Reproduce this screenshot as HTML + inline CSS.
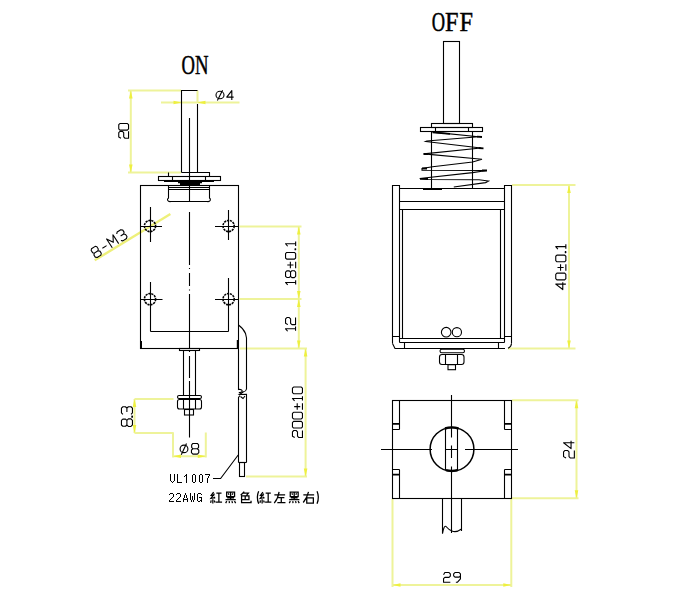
<!DOCTYPE html>
<html><head><meta charset="utf-8"><style>
html,body{margin:0;padding:0;background:#fff;width:680px;height:604px;overflow:hidden}
svg{display:block}
#cadtext path{vector-effect:non-scaling-stroke}
</style></head><body>
<svg width="680" height="604" viewBox="0 0 680 604">
<rect width="680" height="604" fill="#fff"/>

<!-- ============ YELLOW DIMENSIONS ============ -->
<g stroke="#eef39a" stroke-width="2" fill="none">
  <!-- 20 -->
  <path d="M128 90.5H181 M128 172.5H181 M130.8 90.5V172.5"/>
  <!-- d4 -->
  <path d="M161 102.5H239.5 M197.5 90.5V102"/>
  <!-- 18 / 12 -->
  <path d="M239.5 226.5H301.5 M239.5 299H301.5 M298.8 226.5V348.5 M240 348.5H307"/>
  <!-- 200 -->
  <path d="M305.6 348.5V476.5 M246 476.5H307"/>
  <!-- 8.3 -->
  <path d="M134.5 399V433 M134.5 399H173.5 M134.5 433H173.5"/>
  <!-- d8 -->
  <path d="M173 432.5V457.5 M205.8 432.5V457.5 M173 456.3H205.8"/>
  <!-- 40 -->
  <path d="M512 185H575.5 M569 185V348.6 M508 348.6H575.5"/>
  <!-- 24 -->
  <path d="M512 400.3H578.5 M576.5 400.3V498.3 M512 498.3H578.5"/>
  <!-- 29 -->
  <path d="M392.5 499V587 M511.3 499V587 M392.5 585H511.3"/>
</g>
<path d="M94.7 260.3L170.4 214" stroke="#eef07a" stroke-width="2.4" fill="none"/>
<!-- arrows -->
<g fill="#eef040">
  <path d="M130.8 90.5l-1.8 8h3.6z M130.8 172.5l-1.8 -8h3.6z"/>
  <path d="M181.5 102.5l-8 -1.8v3.6z M197.5 102.5l8 -1.8v3.6z"/>
  <path d="M298.8 226.5l-1.8 8h3.6z M298.8 299l-1.8 -8h3.6z M298.8 299l-1.8 8h3.6z M298.8 348.5l-1.8 -8h3.6z"/>
  <path d="M305.6 348.5l-1.8 8h3.6z M305.6 476.5l-1.8 -8h3.6z"/>
  <path d="M134.5 399l-1.8 8h3.6z M134.5 433l-1.8 -8h3.6z"/>
  <path d="M173 456.3l8 -1.8v3.6z M205.8 456.3l-8 -1.8v3.6z"/>
  <path d="M569 185l-1.8 8h3.6z M569 348.6l-1.8 -8h3.6z"/>
  <path d="M576.5 400.3l-1.8 8h3.6z M576.5 498.3l-1.8 -8h3.6z"/>
  <path d="M392.5 585l8 -1.8v3.6z M511.3 585l-8 -1.8v3.6z"/>
</g>

<!-- ============ ON DRAWING ============ -->
<g stroke="#000" stroke-width="1.1" fill="none">
  <!-- top shaft -->
  <path d="M181.5 172.5V90.5H197.5 M197.5 104V172.5"/>
  <path d="M189.5 118V201.5"/>
  <!-- upper plate / washer -->
  <path d="M181.5 172.5H209.5V176.5 M168.5 172.5V176.5"/>
  <rect x="158.5" y="176.5" width="62" height="4"/>
  <path d="M172.5 176.5v4 M205.5 176.5v4"/>
  <path d="M164 181.5H214"/>
  <!-- body -->
  <rect x="140.5" y="185.5" width="98" height="163"/>
  <!-- pole piece -->
  <path d="M168.5 185.5V198Q167 199 167.6 200.3Q168.5 202 171 201.5H207Q209.5 202 210.3 200.3Q210.8 199 209.5 198V185.5 M168.5 187.5H209.5 M168.5 189.5H209.5"/>
  <!-- center dashed -->
  <path d="M189.5 212V265 M189.5 268V269 M189.5 273V286 M189.5 289.5V290.5 M189.5 294V348.5" />
  <!-- hole crosshairs -->
  <path d="M150.5 207V242 M140.5 226.5H162 M228.5 210V240 M215 226.5H238.5"/>
  <path d="M150.5 282V331.5 M140.5 299.5H162.5 M228.5 278V331.5 M215 299.5H238.5"/>
  <path d="M150.5 331.5H228.5"/>
  <!-- bottom plate and shaft -->
  <rect x="179.5" y="348.5" width="20" height="2"/>
  <path d="M183.5 350.5V395.5 M195.5 350.5V395.5"/>
  <rect x="177.5" y="395.5" width="24" height="3" rx="1.5"/>
  <rect x="177.5" y="399.5" width="24" height="9.5" rx="2"/>
  <path d="M183.5 399.5V409 M195.5 399.5V409"/>
  <rect x="184.5" y="409.5" width="9" height="5.5"/>
  <path d="M189.5 350.5V352 M189.5 356V378 M189.5 381V437.5"/>
  <!-- wire -->
  <path d="M238.5 348.5V389.5Q242 389 242.3 391.2Q241.5 392.8 238.8 392.6 M238.5 462.5V397.5L240 395.5"/>
  <path d="M238.5 325Q243.5 328.5 245.5 333.5L246.5 338V389Q246 391.5 243.5 391.8L239.5 394.5L246.5 394.3V462.5"/>
  <path d="M240.5 396.5L243 398.5L245 396"/>
  <path d="M238.5 462.5H246.5"/>
  <rect x="239.5" y="462.5" width="5" height="14"/>
  <path d="M213 478.5H220.6L238.2 455"/>
</g>
<g stroke="#000" stroke-width="1.6" fill="none" stroke-dasharray="2.2 0.8">
  <circle cx="150" cy="226" r="5.6"/>
  <circle cx="228.6" cy="226" r="5.6"/>
  <circle cx="150" cy="299.2" r="5.6"/>
  <circle cx="228.6" cy="299.2" r="5.6"/>
</g>
<g stroke="#000" stroke-width="2" fill="none">
  <path d="M178 182.3H202 M180 184H200"/>
  <path d="M141 341V348 M237.8 340V348"/>
</g>

<!-- ============ OFF DRAWING ============ -->
<g stroke="#000" stroke-width="1.1" fill="none">
  <rect x="443.5" y="41.5" width="16" height="82"/>
  <rect x="431.5" y="123.5" width="41" height="4"/>
  <rect x="420.5" y="127.5" width="62" height="4"/>
  <path d="M435.5 127.5v4 M468.5 127.5v4"/>
  <path d="M431.5 131.5V188.5 M472.5 131.5V188.5"/>
  <!-- frame -->
  <path d="M392.5 343.5V185.5H399.5V342.5 M511.5 343.5V185.5H504.5V342.5"/>
  <path d="M392.5 343.5L395 348.5H505 M511.5 343.5Q511.5 346.5 508 348.3"/>
  <path d="M399.5 188.5H504.5 M399.5 201.5H504.5 M399.5 209.5H504.5"/>
  <path d="M402.5 209.5V338.5 M500.5 209.5V338.5"/>
  <path d="M392.5 336.5H399.5 M504.5 336.5H511.5"/>
  <path d="M399.5 338.5H504.5 M399.5 342.5H504.5"/>
  <path d="M404.5 342.5V348.5 M498.5 342.5V348.5"/>
  <circle cx="446.2" cy="332.2" r="4.8"/>
  <circle cx="456.9" cy="332.2" r="4.6"/>
  <!-- nut -->
  <rect x="440" y="349.2" width="24.5" height="3.6" rx="1.8"/>
  <rect x="439.5" y="354.5" width="24.5" height="10" rx="2.5"/>
  <path d="M445.5 354.5V364.5 M457.5 354.5V364.5"/>
  <rect x="448" y="364.7" width="7.5" height="5"/>
  <!-- spring -->
  <path d="M432.6 132.1L478.5 136.8L426.8 141L425.6 141.5L480.9 148L423.8 153.9L482 159.3L472.6 162L432.6 166.8L422 168.5L422 170.3L486.8 170.5L472.6 172.6L419.7 178.5L428 179.5L479 179.7L488.5 181L485.6 182.6L453.8 187"/>
</g>
<g stroke="#000" stroke-width="1.8" fill="none">
  <path d="M432.6 132.4L450 133.8 M420 178.8H428 M482 170.5H487 M423 189H442 M477 136.6L482 137 M478.5 148L483.5 148.3 M423.5 154H428 M422 168.5H427"/>
</g>

<!-- ============ END VIEW ============ -->
<g stroke="#000" stroke-width="1.1" fill="none">
  <rect x="392.5" y="400.5" width="119" height="98"/>
  <path d="M399.5 400.5V429.5 M399.5 469.5V498.5 M504.5 400.5V429.5 M504.5 469.5V498.5"/>
  <path d="M392.5 429.5H399.5 M392.5 469.5H399.5 M504.5 429.5H511.5 M504.5 469.5H511.5"/>
  <path d="M381 449.5H432 M445.5 449.5H457.5 M465 449.5H518"/>
  <path d="M451.5 395V437.5 M451.5 445.5V458 M451.5 466.5V533"/>
  <path d="M445.5 428.5V470 M457.5 428.5V470"/>
  <path d="M442.5 498.5V533.5 M461.5 498.5V531"/>
  <path d="M442.5 533.5Q444 525 446 526.5Q449 530 452 531Q456 533 461.5 529"/>
</g>
<g stroke="#000" stroke-width="1.8" fill="none">
  <path d="M392.5 423.8H399.5 M392.5 474.6H399.5 M504.5 423.8H511.5 M504.5 474.6H511.5"/>
</g>
<circle cx="452" cy="449.3" r="21.9" stroke="#000" stroke-width="1.5" fill="none"/>
<path d="M445 428.5A21.9 21.9 0 0 1 458.5 428.5 M446 470.2A21.9 21.9 0 0 0 457.5 470.2" stroke="#000" stroke-width="2.4" fill="none"/>

<!-- ============ TEXT ============ -->
<g font-family="Liberation Serif" font-size="28.2" fill="#000" stroke="#000" stroke-width="0.5">
  <text transform="translate(181.6 73.8) scale(0.66 1)">O</text>
  <text transform="translate(194.9 73.8) scale(0.665 1)">N</text>
  <text transform="translate(431.7 30.6) scale(0.655 1)">O</text>
  <text transform="translate(445.0 30.6) scale(0.86 1)">F</text>
  <text transform="translate(459.6 30.6) scale(0.86 1)">F</text>
</g>
<g id="cadtext" fill="none" stroke="#000" stroke-width="1.1" stroke-linejoin="round">
<g transform="translate(118.75 138.25) rotate(-90) scale(0.9333)"><path transform="translate(0.00 0)" d="M0 2.4L1.4 0H6L7.4 1.4V3.9L6 5.3H1.4L0 6.7V10.5H7.4"/><path transform="translate(8.75 0)" d="M1.2 0H5.8L7 1.2V9.3L5.8 10.5H1.2L0 9.3V1.2Z"/></g>
<g transform="translate(226.75 90.55) scale(0.9048)"><path transform="translate(0.00 0)" d="M5.6 10.5V0L0 7.3H7.6"/></g>
<g transform="translate(285.55 284.95) rotate(-90) scale(0.9619)"><path transform="translate(0.00 0)" d="M0 2.2L2.6 0V10.5M0.4 10.5H5"/><path transform="translate(7.60 0)" d="M1.4 0H5.8L7 1.3V3.9L5.8 5.2H1.4L0.2 3.9V1.3ZM1.4 5.2L0 6.6V9.1L1.4 10.5H5.8L7.2 9.1V6.6L5.8 5.2"/><path transform="translate(17.41 0)" d="M3.4 1.8V8.2M0 5H6.8M0 10.5H6.8"/><path transform="translate(26.81 0)" d="M1.2 0H5.8L7 1.2V9.3L5.8 10.5H1.2L0 9.3V1.2Z"/><path transform="translate(36.42 0)" d="M0.1 9.9H1.1V10.5H0.1Z"/><path transform="translate(40.22 0)" d="M0 2.2L2.6 0V10.5M0.4 10.5H5"/></g>
<g transform="translate(285.55 331.25) rotate(-90) scale(0.9524)"><path transform="translate(0.00 0)" d="M0 2.2L2.6 0V10.5M0.4 10.5H5"/><path transform="translate(6.98 0)" d="M0 2.4L1.4 0H6L7.4 1.4V3.9L6 5.3H1.4L0 6.7V10.5H7.4"/></g>
<g transform="translate(292.45 437.55) rotate(-90) scale(0.9524)"><path transform="translate(0.00 0)" d="M0 2.4L1.4 0H6L7.4 1.4V3.9L6 5.3H1.4L0 6.7V10.5H7.4"/><path transform="translate(9.96 0)" d="M1.2 0H5.8L7 1.2V9.3L5.8 10.5H1.2L0 9.3V1.2Z"/><path transform="translate(19.53 0)" d="M1.2 0H5.8L7 1.2V9.3L5.8 10.5H1.2L0 9.3V1.2Z"/><path transform="translate(29.09 0)" d="M3.4 1.8V8.2M0 5H6.8M0 10.5H6.8"/><path transform="translate(38.46 0)" d="M0 2.2L2.6 0V10.5M0.4 10.5H5"/><path transform="translate(46.02 0)" d="M1.2 0H5.8L7 1.2V9.3L5.8 10.5H1.2L0 9.3V1.2Z"/></g>
<g transform="translate(121.45 426.45) rotate(-90) scale(1.0476)"><path transform="translate(0.00 0)" d="M1.4 0H5.8L7 1.3V3.9L5.8 5.2H1.4L0.2 3.9V1.3ZM1.4 5.2L0 6.6V9.1L1.4 10.5H5.8L7.2 9.1V6.6L5.8 5.2"/><path transform="translate(8.80 0)" d="M0.1 9.9H1.1V10.5H0.1Z"/><path transform="translate(11.60 0)" d="M0 1.4L1.4 0H5.8L7.2 1.4V3.8L5.8 5.2H2.2M5.8 5.2L7.2 6.6V9.1L5.8 10.5H1.4L0 9.1"/></g>
<g transform="translate(191.45 443.45) scale(1.0190)"><path transform="translate(0.00 0)" d="M1.4 0H5.8L7 1.3V3.9L5.8 5.2H1.4L0.2 3.9V1.3ZM1.4 5.2L0 6.6V9.1L1.4 10.5H5.8L7.2 9.1V6.6L5.8 5.2"/></g>
<g transform="translate(555.75 289.55) rotate(-90) scale(0.9619)"><path transform="translate(0.00 0)" d="M5.6 10.5V0L0 7.3H7.6"/><path transform="translate(10.08 0)" d="M1.2 0H5.8L7 1.2V9.3L5.8 10.5H1.2L0 9.3V1.2Z"/><path transform="translate(19.56 0)" d="M3.4 1.8V8.2M0 5H6.8M0 10.5H6.8"/><path transform="translate(28.83 0)" d="M1.2 0H5.8L7 1.2V9.3L5.8 10.5H1.2L0 9.3V1.2Z"/><path transform="translate(38.31 0)" d="M0.1 9.9H1.1V10.5H0.1Z"/><path transform="translate(41.99 0)" d="M0 2.2L2.6 0V10.5M0.4 10.5H5"/></g>
<g transform="translate(563.55 458.05) rotate(-90) scale(1.0286)"><path transform="translate(0.00 0)" d="M0 2.4L1.4 0H6L7.4 1.4V3.9L6 5.3H1.4L0 6.7V10.5H7.4"/><path transform="translate(9.22 0)" d="M5.6 10.5V0L0 7.3H7.6"/></g>
<g transform="translate(443.55 572.55) scale(0.9190)"><path transform="translate(0.00 0)" d="M0 2.4L1.4 0H6L7.4 1.4V3.9L6 5.3H1.4L0 6.7V10.5H7.4"/><path transform="translate(10.99 0)" d="M7.4 3.6L6 5H1.4L0 3.6V1.4L1.4 0H6L7.4 1.4V7L4.2 10.5H2.4"/></g>
<g transform="translate(90.3 249.5) rotate(-33) scale(1.0)"><path transform="translate(0.00 0)" d="M1.4 0H5.8L7 1.3V3.9L5.8 5.2H1.4L0.2 3.9V1.3ZM1.4 5.2L0 6.6V9.1L1.4 10.5H5.8L7.2 9.1V6.6L5.8 5.2"/><path transform="translate(10.80 0)" d="M0 5.6H5"/><path transform="translate(19.40 0)" d="M0 10.5V0L3.8 6.5L7.6 0V10.5"/><path transform="translate(30.60 0)" d="M0 1.4L1.4 0H5.8L7.2 1.4V3.8L5.8 5.2H2.2M5.8 5.2L7.2 6.6V9.1L5.8 10.5H1.4L0 9.1"/></g>
</g>
<g stroke="#000" stroke-width="1.1" fill="none">
  <ellipse cx="220" cy="95" rx="4" ry="3.8"/>
  <path d="M217.4 100.6L222.6 90.3"/>
  <ellipse cx="184" cy="448.9" rx="3.9" ry="3.75"/>
  <path d="M181.3 454.7L186.5 443.4"/>
</g>
<path fill="#000" d="M170 474h1v1h-1zM174 474h1v1h-1zM170 475h1v1h-1zM174 475h1v1h-1zM170 476h1v1h-1zM174 476h1v1h-1zM170 477h1v1h-1zM174 477h1v1h-1zM170 478h1v1h-1zM174 478h1v1h-1zM170 479h1v1h-1zM174 479h1v1h-1zM170 480h1v1h-1zM174 480h1v1h-1zM171 481h1v1h-1zM173 481h1v1h-1zM172 482h1v1h-1zM177 474h1v1h-1zM177 475h1v1h-1zM177 476h1v1h-1zM177 477h1v1h-1zM177 478h1v1h-1zM177 479h1v1h-1zM177 480h1v1h-1zM177 481h1v1h-1zM177 482h5v1h-5zM186 474h1v1h-1zM185 475h2v1h-2zM184 476h1v1h-1zM186 476h1v1h-1zM186 477h1v1h-1zM186 478h1v1h-1zM186 479h1v1h-1zM186 480h1v1h-1zM186 481h1v1h-1zM186 482h1v1h-1zM193 474h2v1h-2zM192 475h1v1h-1zM195 475h1v1h-1zM192 476h1v1h-1zM195 476h1v1h-1zM192 477h1v1h-1zM195 477h1v1h-1zM192 478h1v1h-1zM195 478h1v1h-1zM192 479h1v1h-1zM195 479h1v1h-1zM192 480h1v1h-1zM195 480h1v1h-1zM192 481h1v1h-1zM195 481h1v1h-1zM193 482h2v1h-2zM200 474h2v1h-2zM199 475h1v1h-1zM202 475h1v1h-1zM199 476h1v1h-1zM202 476h1v1h-1zM199 477h1v1h-1zM202 477h1v1h-1zM199 478h1v1h-1zM202 478h1v1h-1zM199 479h1v1h-1zM202 479h1v1h-1zM199 480h1v1h-1zM202 480h1v1h-1zM199 481h1v1h-1zM202 481h1v1h-1zM200 482h2v1h-2zM205 474h5v1h-5zM209 475h1v1h-1zM208 476h1v1h-1zM208 477h1v1h-1zM207 478h1v1h-1zM207 479h1v1h-1zM207 480h1v1h-1zM207 481h1v1h-1zM207 482h1v1h-1zM170 493h3v1h-3zM169 494h1v1h-1zM173 494h1v1h-1zM173 495h1v1h-1zM173 496h1v1h-1zM172 497h1v1h-1zM171 498h1v1h-1zM170 499h1v1h-1zM169 500h1v1h-1zM169 501h5v1h-5zM177 493h3v1h-3zM176 494h1v1h-1zM180 494h1v1h-1zM180 495h1v1h-1zM180 496h1v1h-1zM179 497h1v1h-1zM178 498h1v1h-1zM177 499h1v1h-1zM176 500h1v1h-1zM176 501h5v1h-5zM185 493h1v1h-1zM185 494h1v1h-1zM184 495h1v1h-1zM186 495h1v1h-1zM184 496h1v1h-1zM186 496h1v1h-1zM184 497h1v1h-1zM186 497h1v1h-1zM183 498h1v1h-1zM187 498h1v1h-1zM183 499h5v1h-5zM183 500h1v1h-1zM187 500h1v1h-1zM183 501h1v1h-1zM187 501h1v1h-1zM190 493h1v1h-1zM194 493h1v1h-1zM190 494h1v1h-1zM194 494h1v1h-1zM190 495h1v1h-1zM194 495h1v1h-1zM190 496h1v1h-1zM192 496h1v1h-1zM194 496h1v1h-1zM190 497h1v1h-1zM192 497h1v1h-1zM194 497h1v1h-1zM190 498h1v1h-1zM192 498h1v1h-1zM194 498h1v1h-1zM190 499h1v1h-1zM192 499h1v1h-1zM194 499h1v1h-1zM191 500h1v1h-1zM193 500h1v1h-1zM191 501h1v1h-1zM193 501h1v1h-1zM198 493h3v1h-3zM197 494h1v1h-1zM201 494h1v1h-1zM197 495h1v1h-1zM197 496h1v1h-1zM197 497h1v1h-1zM199 497h3v1h-3zM197 498h1v1h-1zM201 498h1v1h-1zM197 499h1v1h-1zM201 499h1v1h-1zM197 500h1v1h-1zM200 500h2v1h-2zM198 501h2v1h-2zM201 501h1v1h-1z"/>
<defs>
  <path id="hong" d="M3 0.5L0.8 3.5H3.6 M3.8 2L0.6 6.2L4.2 5.6 M3.2 4.8L4.3 6.3 M0.8 8L0.3 10.3 M2.3 7V11 M3.6 8.2L4.3 10 M5.5 1.5H10.2 M7.8 1.5V9.6 M5 9.6H10.7"/>
  <path id="hei" d="M1.5 0.6H8.7V4.6H1.5Z M3 1.6L3.6 3 M7.2 1.6L6.6 3 M5.1 0.6V7.2 M2 5.9H8.2 M0.5 7.3H9.8 M1.6 8.8L0.6 10.6 M3.8 8.8L4 10.6 M6.3 8.8L6.8 10.6 M8.6 8.8L9.7 10.6"/>
  <path id="se" d="M4.2 0.3L1 3.6 M3 1.6H8L6.3 3.8 M1.8 4.2H8.5V7.6H1.8Z M5.1 4.2V7.6 M1.8 4.2V10.4H10.4V8.7"/>
  <path id="zuo" d="M0.5 3H10.3 M4.8 0.3Q4 6 0.4 10.6 M4 5.6H9.6 M6.8 5.6V10.2 M3.2 10.2H10.6"/>
  <path id="you" d="M0.5 3H10.3 M5.2 0.3Q4 5.5 0.4 10 M3.6 5.8H9.6V10.6H3.6Z"/>
  <path id="lp" d="M2.6 0.2Q0.2 5.5 2.6 11"/>
  <path id="rp" d="M0.4 0.2Q2.8 5.5 0.4 11"/>
</defs>
<g stroke="#000" stroke-width="1.15" fill="none">
  <use href="#hong" transform="translate(210.3 491.5) scale(1.1)"/>
  <use href="#hei" transform="translate(225.0 491.5) scale(1.1)"/>
  <use href="#se" transform="translate(239.6 491.3) scale(1.1)"/>
  <use href="#lp" transform="translate(255.8 491.0) scale(1.1 1.15)"/>
  <use href="#hong" transform="translate(259.6 491.5) scale(1.1)"/>
  <use href="#zuo" transform="translate(273.8 491.5) scale(1.1)"/>
  <use href="#hei" transform="translate(288.6 491.5) scale(1.1)"/>
  <use href="#you" transform="translate(302.8 491.5) scale(1.1)"/>
  <use href="#rp" transform="translate(316.6 491.0) scale(1.1 1.15)"/>
</g>
</svg>
</body></html>
